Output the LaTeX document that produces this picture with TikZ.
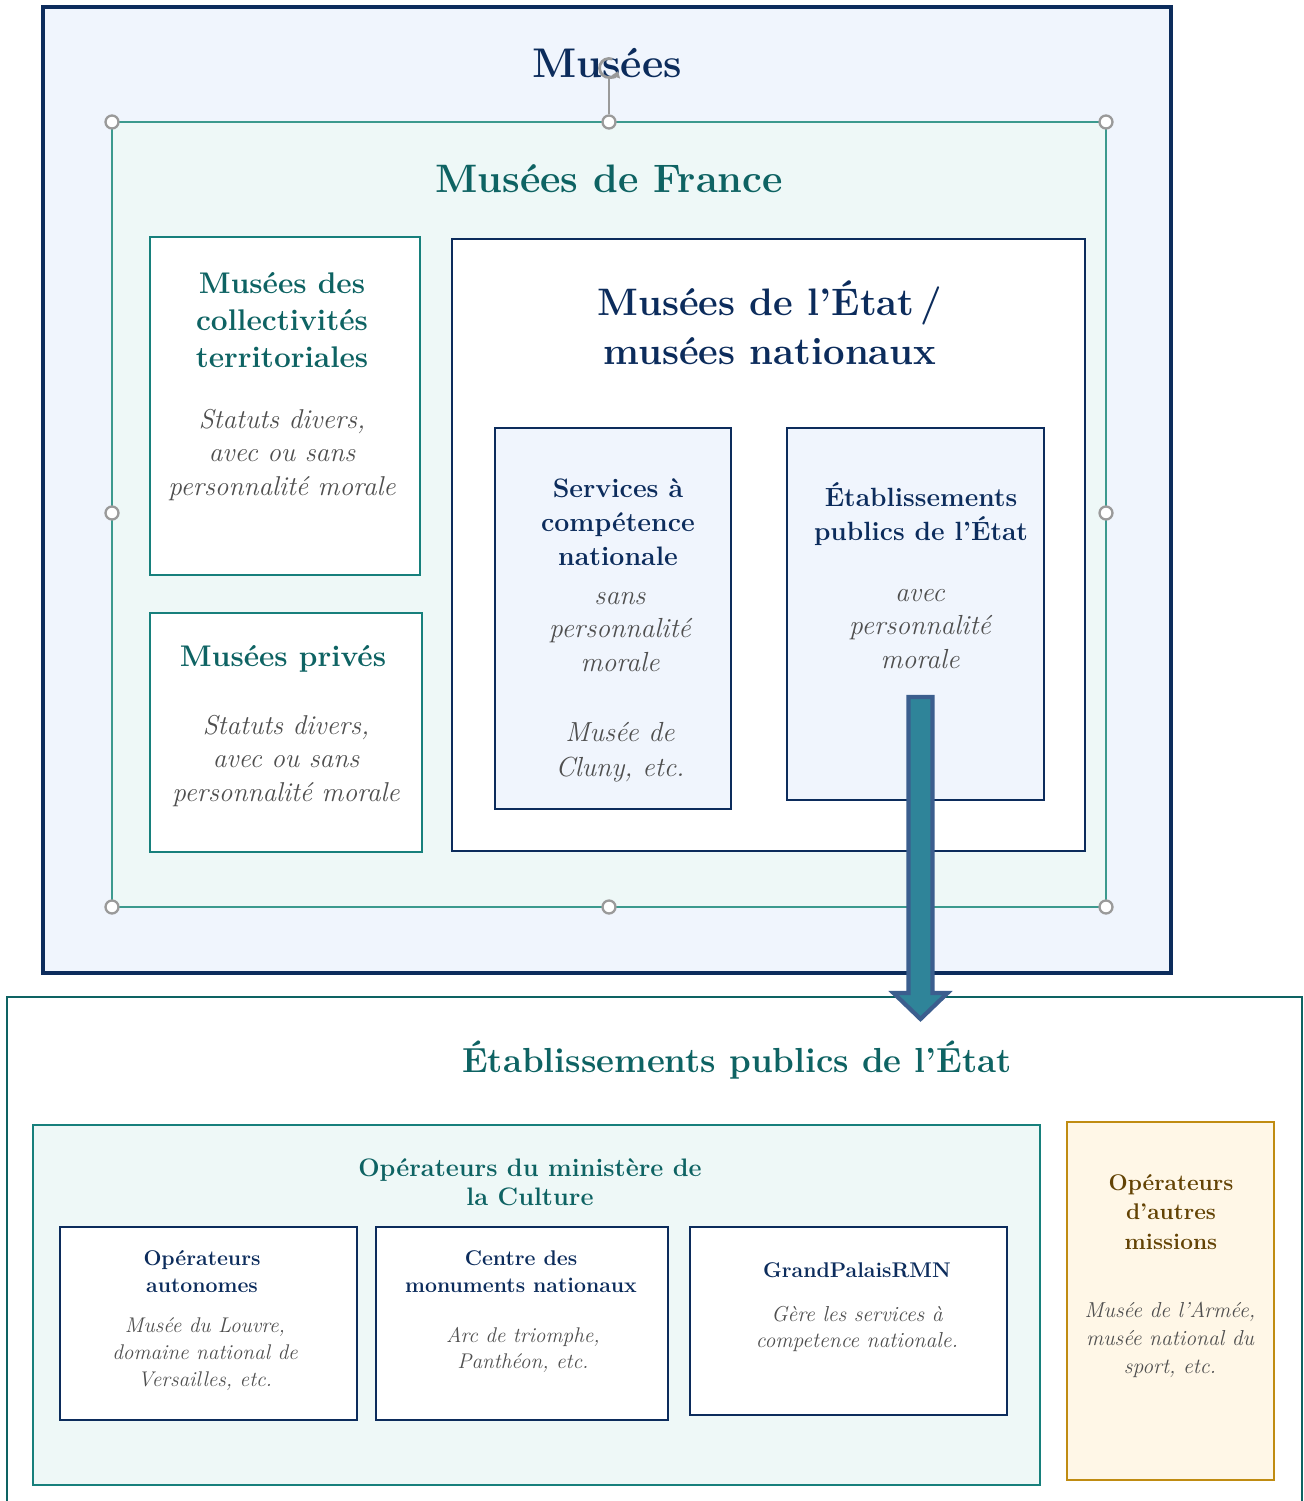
\documentclass[tikz,border=0pt]{standalone}
\usetikzlibrary{fit,arrows.meta}

\definecolor{navy}{HTML}{0C2C5C}
\definecolor{tealtxt}{HTML}{0E6363}
\definecolor{tealline}{HTML}{17807C}
\definecolor{mfline}{HTML}{3C9A8E}
\definecolor{bluefill}{HTML}{F0F5FD}
\definecolor{tealfill}{HTML}{EEF8F7}
\definecolor{goldline}{HTML}{C08C12}
\definecolor{goldfill}{HTML}{FFF7E7}
\definecolor{browntxt}{HTML}{634304}
\definecolor{txtgray}{HTML}{4F4F4F}
\definecolor{arrfill}{HTML}{2F8499}
\definecolor{arrline}{HTML}{3B5E8E}
\definecolor{handlegray}{HTML}{9A9A9A}

\tikzset{
  box/.style={draw, inner sep=0pt, line width=1.4pt},
  navybox/.style={box, draw=navy},
  tealbox/.style={box, draw=tealline},
  ttl/.style 2 args={align=center, inner sep=0pt, font=\fontsize{#1}{#2}\selectfont\bfseries},
  itl/.style 2 args={align=center, inner sep=0pt, text=txtgray, font=\fontsize{#1}{#2}\selectfont\itshape},
  handle/.style={circle, draw=handlegray, fill=white, line width=1.3pt, minimum size=0.26cm, inner sep=0pt},
}

\begin{document}
\begin{tikzpicture}[x=0.02cm, y=-0.02cm]
  \useasboundingbox (0,0) rectangle (1304,1501);
  \clip (0,0) rectangle (1304,1501);

  % upper part: all museums
  \node[box, draw=navy, fill=bluefill, line width=2pt, fit={(43,7) (1171,973)}] (musees) {};
  \node[ttl={23.6}{28}, text=navy] (museestitle) at (607,63) {Mus\'ees};

  \node[box, draw=mfline, fill=tealfill, line width=0.9pt, fit={(112,122) (1106,907)}] (mdf) {};
  \node[ttl={22.6}{28}, text=tealtxt] (mdftitle) at (609,179) {Mus\'ees de France};

  % left column
  \node[tealbox, fill=white, fit={(150,237) (420,575)}] (coll) {};
  \node[ttl={17}{21}, text=tealtxt] (colltitle) at (282,320) {Mus\'ees des\\collectivit\'es\\territoriales};
  \node[itl={15.5}{19.3}] (colltext) at (282,455) {Statuts divers,\\avec ou sans\\personnalit\'e morale};

  \node[tealbox, fill=white, fit={(150,613) (422,852)}] (priv) {};
  \node[ttl={17}{21}, text=tealtxt] (privtitle) at (283,659) {Mus\'ees priv\'es};
  \node[itl={15.5}{19.3}] (privtext) at (286,761) {Statuts divers,\\avec ou sans\\personnalit\'e morale};

  % state museums
  \node[navybox, fill=white, fit={(452,239) (1085,851)}] (etat) {};
  \node[ttl={21.8}{27.8}, text=navy] (etattitle) at (770,323) {Mus\'ees de l'\'Etat\,/\\mus\'ees nationaux};

  \node[navybox, fill=bluefill, fit={(495,428) (731,809)}] (scn) {};
  \node[ttl={15.2}{19.3}, text=navy] (scntitle) at (618,522) {Services \`a\\comp\'etence\\nationale};
  \node[itl={15.7}{19.3}] (scntext) at (620,632) {sans\\personnalit\'e\\morale};
  \node[itl={15.7}{19.8}] (scnex) at (620,752) {Mus\'ee de\\Cluny, etc.};

  \node[navybox, fill=bluefill, fit={(787,428) (1044,800)}] (epe) {};
  \node[ttl={15}{19.3}, text=navy] (epetitle) at (921,514) {\'Etablissements\\publics de l'\'Etat};
  \node[itl={15.7}{19.3}] (epetext) at (920,629) {avec\\personnalit\'e\\morale};

  % selection handles
  \foreach \hx/\hy [count=\i] in {112/122, 609/122, 1106/122, 112/513, 1106/513, 112/907, 609/907, 1106/907}
    \node[handle] (h\i) at (\hx,\hy) {};
  \coordinate (rot) at (609,68);
  \draw[handlegray, line width=1.2pt] (h2.north) -- ([yshift=-0.22cm]rot);
  \draw[handlegray, line width=1.6pt, -{Triangle[length=3.5pt,width=5pt]}] (rot) ++(70:0.19cm) arc (70:340:0.19cm);

  % lower part: public establishments
  \node[box, draw=tealtxt, fill=white, line width=1.1pt, fit={(7,997) (1302,1530)}] (epeall) {};
  \node[ttl={19.8}{26}, text=tealtxt] (epealltitle) at (737,1060) {\'Etablissements publics de l'\'Etat};

  \node[tealbox, fill=tealfill, line width=1.2pt, fit={(33,1125) (1040,1485)}] (mini) {};
  \node[ttl={14.4}{16.6}, text=tealtxt] (minititle) at (530,1182) {Op\'erateurs du minist\`ere de\\la Culture};

  \node[navybox, fill=white, fit={(60,1227) (357,1420)}] (auto) {};
  \node[ttl={12.1}{15.3}, text=navy] (autotitle) at (202,1272) {Op\'erateurs\\autonomes};
  \node[itl={12.1}{15.3}] (autotext) at (205,1354) {Mus\'ee du Louvre,\\domaine national de\\Versailles, etc.};

  \node[navybox, fill=white, fit={(376,1227) (668,1420)}] (cmn) {};
  \node[ttl={12.1}{15.3}, text=navy] (cmntitle) at (521,1272) {Centre des\\monuments nationaux};
  \node[itl={12.1}{15.3}] (cmntext) at (523,1350) {Arc de triomphe,\\Panth\'eon, etc.};

  \node[navybox, fill=white, fit={(690,1227) (1007,1415)}] (gp) {};
  \node[ttl={12.1}{15.3}, text=navy] (gptitle) at (857,1270) {GrandPalaisRMN};
  \node[itl={12.3}{15.3}] (gptext) at (857,1329) {G\`ere les services \`a\\competence nationale.};

  \node[box, draw=goldline, fill=goldfill, line width=1.3pt, fit={(1067,1122) (1274,1480)}] (autres) {};
  \node[ttl={12.9}{17}, text=browntxt] (autrestitle) at (1171,1212) {Op\'erateurs\\d'autres\\missions};
  \node[itl={12.3}{15.9}] (autrestext) at (1170,1340) {Mus\'ee de l'Arm\'ee,\\mus\'ee national du\\sport, etc.};

  % arrow from the EPE box down to the lower part
  \coordinate (arrS) at (920.5,697);
  \draw[fill=arrfill, draw=arrline, line width=2.4pt, line join=miter, shift={(arrS)}]
    (-12,0) -- (12,0) -- (12,296) -- (27,296) -- (0,322) -- (-27,296) -- (-12,296) -- cycle;
\end{tikzpicture}
\end{document}
